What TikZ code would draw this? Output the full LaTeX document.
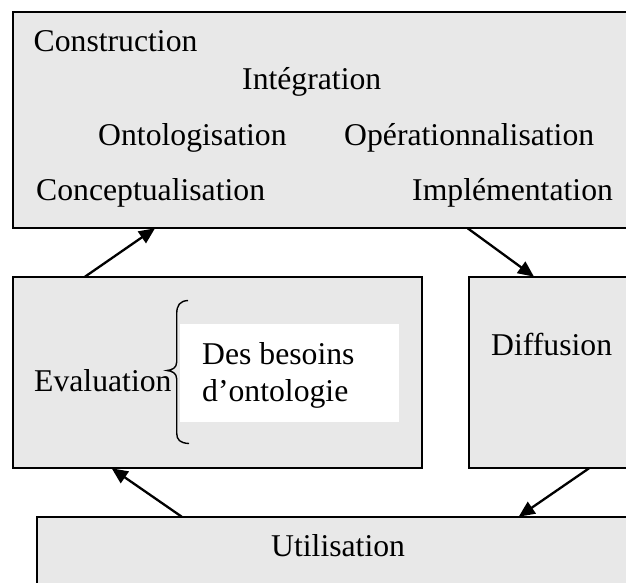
\documentclass[tikz,border=0pt]{standalone}
\usepackage{fontspec}
\setmainfont{Liberation Serif}
\usetikzlibrary{arrows.meta}
\definecolor{panel}{HTML}{E8E8E8}
\begin{document}
\begin{tikzpicture}[x=1pt,y=-1pt,
  box/.style={draw=black, fill=panel, line width=2pt, inner sep=0pt, outer sep=0pt, anchor=north west},
  lbl/.style={font=\fontsize{31.7}{38}\selectfont, inner sep=0pt, anchor=base west},
  flow/.style={line width=2.3pt, -{Triangle[length=16pt,width=14pt]}}]
\useasboundingbox (0,0) rectangle (626,583);
\clip (0,0) rectangle (626,583);

% phase boxes
\node[box, minimum width=627.3pt, minimum height=215.8pt] (top) at (12.7,12.5) {};
\node[box, minimum width=409.3pt, minimum height=191.6pt] (eval) at (12.7,276.7) {};
\node[box, minimum width=171.3pt, minimum height=191.6pt] (diff) at (468.7,276.7) {};
\node[box, minimum width=603.3pt, minimum height=100pt] (util) at (36.7,516.7) {};

% white panel behind the needs text
\node[fill=white, inner sep=0pt, outer sep=0pt, anchor=north west,
      minimum width=219pt, minimum height=97.7pt] (needs) at (180,324) {};

% construction activities
\node[lbl] (cons) at (33.5,51.7) {Construction};
\node[lbl] (integ) at (242,90) {Intégration};
\node[lbl] (onto) at (98,145) {Ontologisation};
\node[lbl] (oper) at (344,145) {Opérationnalisation};
\node[lbl] (concept) at (36,200) {Conceptualisation};
\node[lbl] (impl) at (412,200) {Implémentation};

% other phases
\node[lbl] (evaltxt) at (34,391.7) {Evaluation};
\node[lbl] (need1) at (202,364) {Des besoins};
\node[lbl] (need2) at (202,401.7) {d’ontologie};
\node[lbl] (difftxt) at (491,355) {Diffusion};
\node[lbl] (utiltxt) at (271,556.7) {Utilisation};

% curly brace
\draw[line width=1.4pt] (188,300.5) .. controls (180,301) and (176.7,305) .. (176.7,314)
  -- (176.7,362) .. controls (176.7,368) and (172,370) .. (167,370.5)
  .. controls (172,371) and (176.7,373) .. (176.7,379)
  -- (176.7,433) .. controls (176.7,440) and (180,443) .. (189,443.5);

% cycle connectors
\draw[flow] ([xshift=72.3pt]eval.north west) -- ([xshift=142.3pt]top.south west);
\draw[flow] ([xshift=455pt]top.south west) -- ([xshift=65.3pt]diff.north west);
\draw[flow] ([xshift=120.3pt]diff.south west) -- ([xshift=482pt]util.north west);
\draw[flow] ([xshift=145pt]util.north west) -- ([xshift=99pt]eval.south west);
\end{tikzpicture}
\end{document}
